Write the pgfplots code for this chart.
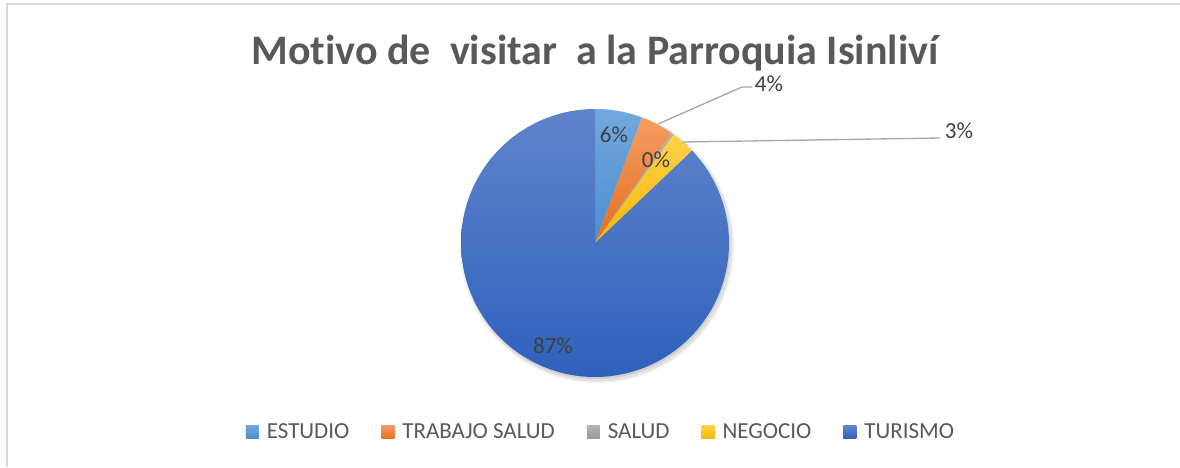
\documentclass[border=0pt]{standalone}
\usepackage{pgfplots}
\usepackage{pgfplotstable}
\pgfplotsset{compat=1.18}
\usepackage{fontspec}
\setmainfont{Carlito}[Ligatures=NoCommon]

\definecolor{titlegray}{HTML}{595959}
\definecolor{labelgray}{HTML}{404040}
\definecolor{linegray}{HTML}{A6A6A6}
\definecolor{bordergray}{HTML}{D9D9D9}
\definecolor{estA}{HTML}{72A8DE}
\definecolor{estB}{HTML}{4A8ED0}
\definecolor{traA}{HTML}{F49D62}
\definecolor{traB}{HTML}{E46E1E}
\definecolor{salA}{HTML}{B4B4B4}
\definecolor{salB}{HTML}{999999}
\definecolor{negA}{HTML}{FFD24C}
\definecolor{negB}{HTML}{F3B700}
\definecolor{turA}{HTML}{6084CA}
\definecolor{turB}{HTML}{2E61BC}

\pgfplotstableread{
name value
ESTUDIO 5.7
TRABAJO 4.0
SALUD 0.3
NEGOCIO 2.9
TURISMO 87.1
}\piedata

\begin{document}
\begin{tikzpicture}
\pgfplotstablegetelem{0}{value}\of\piedata \let\vA\pgfplotsretval
\pgfplotstablegetelem{1}{value}\of\piedata \let\vB\pgfplotsretval
\pgfplotstablegetelem{2}{value}\of\piedata \let\vC\pgfplotsretval
\pgfplotstablegetelem{3}{value}\of\piedata \let\vD\pgfplotsretval
\pgfplotstablegetelem{4}{value}\of\piedata \let\vE\pgfplotsretval
\pgfmathsetmacro{\aA}{3.6*\vA}
\pgfmathsetmacro{\aB}{\aA+3.6*\vB}
\pgfmathsetmacro{\aC}{\aB+3.6*\vC}
\pgfmathsetmacro{\aD}{\aC+3.6*\vD}
\pgfmathsetmacro{\aE}{\aD+3.6*\vE}
\begin{axis}[
  width=1180pt, height=467pt, scale only axis,
  at={(0,0)}, anchor=south west,
  xmin=0, xmax=1180, ymin=0, ymax=467,
  hide axis, clip=false,
  legend columns=5,
  legend image code/.code={\path[#1,draw=none] (0pt,-6.5pt) rectangle (13pt,6.5pt);},
  legend style={draw=none, fill=none, at={(600/1180,35/467)}, anchor=center,
    font=\fontsize{23}{27}\selectfont, text=titlegray,
    nodes={inner sep=0pt},
    /tikz/every odd column/.append style={column sep=8pt},
    /tikz/every even column/.append style={column sep=32pt}},
]
% soft shadow
\fill[black, opacity=0.05] (axis cs:597,221) circle[radius=137pt];
\fill[black, opacity=0.07] (axis cs:597,221) circle[radius=135.5pt];
\fill[black, opacity=0.08] (axis cs:596,222) circle[radius=134pt];

\addplot[draw=none, shade, top color=estA, bottom color=estB, domain=0:\aA, samples=20, variable=\t]
  ({595+134*sin(t)},{224+134*cos(t)}) -- (axis cs:595,224) -- cycle;
\addlegendentry{ESTUDIO}
\addplot[draw=none, shade, top color=traA, bottom color=traB, domain=\aA:\aB, samples=20, variable=\t]
  ({595+134*sin(t)},{224+134*cos(t)}) -- (axis cs:595,224) -- cycle;
\addlegendentry{TRABAJO SALUD}
\addplot[draw=none, shade, top color=salA, bottom color=salB, domain=\aB:\aC, samples=5, variable=\t]
  ({595+134*sin(t)},{224+134*cos(t)}) -- (axis cs:595,224) -- cycle;
\addlegendentry{SALUD}
\addplot[draw=none, shade, top color=negA, bottom color=negB, domain=\aC:\aD, samples=20, variable=\t]
  ({595+134*sin(t)},{224+134*cos(t)}) -- (axis cs:595,224) -- cycle;
\addlegendentry{NEGOCIO}
\addplot[draw=none, shade, top color=turA, bottom color=turB, domain=\aD:\aE, samples=200, variable=\t]
  ({595+134*sin(t)},{224+134*cos(t)}) -- (axis cs:595,224) -- cycle;
\addlegendentry{TURISMO}

% border
\draw[bordergray, line width=1.5pt] (axis cs:7,0) -- (axis cs:7,463) -- (axis cs:1180,463);

% title
\node[anchor=base, text=titlegray, font=\bfseries\fontsize{42}{50}\selectfont]
  at (axis cs:595,402) {Motivo de~ visitar~ a la Parroquia Isinliví};

% leader lines
\draw[linegray, line width=1.3pt] (axis cs:658,343) -- (axis cs:742,380) -- (axis cs:752,380);
\draw[linegray, line width=1.3pt] (axis cs:683,325) -- (axis cs:940,329);

% data labels
\begin{scope}[every node/.style={text=labelgray, font=\fontsize{23}{27}\selectfont, inner sep=0pt}]
\node at (axis cs:614,332) {6\%};
\node at (axis cs:656,307) {0\%};
\node at (axis cs:769,383) {4\%};
\node at (axis cs:959,336) {3\%};
\node at (axis cs:553,121) {87\%};
\end{scope}
\end{axis}
\pgfresetboundingbox
\path[use as bounding box] (0,0) rectangle (1180pt,467pt);
\end{tikzpicture}
\end{document}
